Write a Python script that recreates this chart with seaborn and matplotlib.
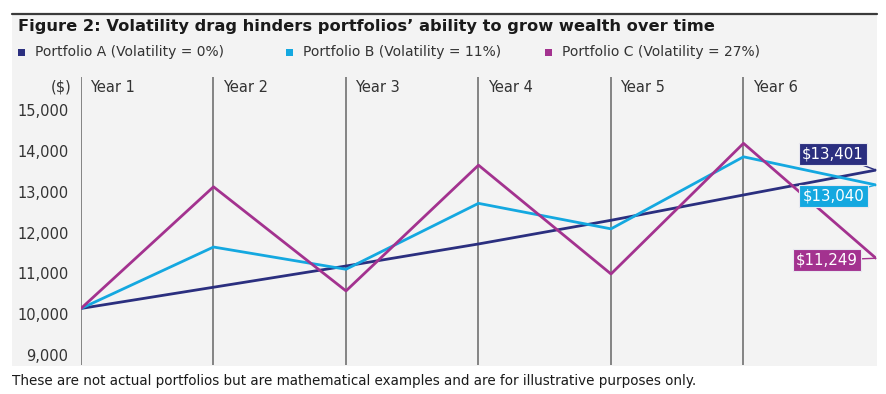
import numpy as np
import pandas as pd
import matplotlib
matplotlib.use('Agg')
import matplotlib.pyplot as plt
import matplotlib.transforms as mtransforms
from matplotlib.patches import Rectangle
import seaborn as sns

# ── Data ──────────────────────────────────────────────────────────────────────
years = [0, 1, 2, 3, 4, 5, 6]
year_labels = ['Year 1', 'Year 2', 'Year 3', 'Year 4', 'Year 5', 'Year 6']
portfolio_a = [10140, 10660, 11180, 11720, 12300, 12920, 13530]
portfolio_b = [10140, 11645, 11100, 12715, 12090, 13855, 13165]
portfolio_c = [10140, 13120, 10570, 13650, 10985, 14185, 11370]
series_names = ['Portfolio A (Volatility = 0%)',
                'Portfolio B (Volatility = 11%)',
                'Portfolio C (Volatility = 27%)']
end_labels = ['$13,401', '$13,040', '$11,249']
y_ticks = [9000, 10000, 11000, 12000, 13000, 14000, 15000]

# ── Style ─────────────────────────────────────────────────────────────────────
NAVY = '#2b2f7f'
CYAN = '#14a8e0'
MAGENTA = '#a3328f'
PANEL = '#f3f3f3'
colors = [NAVY, CYAN, MAGENTA]

sns.set_style('white')
plt.rcParams['font.family'] = ['DejaVu Sans']

df = pd.DataFrame({
    'year': years * 3,
    'value': portfolio_a + portfolio_b + portfolio_c,
    'portfolio': [n for n in series_names for _ in years],
})

fig = plt.figure(figsize=(8.87, 3.94), dpi=100)
W, H = 887, 394

def fx(px):
    return px / W

def fy(py):
    return 1 - py / H

# grey panel + top rule
fig.patches.append(Rectangle((fx(12), fy(366)), fx(877) - fx(12), fy(14) - fy(366),
                             transform=fig.transFigure, facecolor=PANEL,
                             edgecolor='none', zorder=-5))
fig.lines.append(plt.Line2D([fx(12), fx(877)], [fy(14), fy(14)],
                            transform=fig.transFigure, color='#3a3a3a', lw=1.6))

ax = fig.add_axes([fx(81), fy(365), fx(876) - fx(81), fy(77) - fy(365)])
ax.patch.set_alpha(0)
ax.set_zorder(2)

sns.lineplot(data=df, x='year', y='value', hue='portfolio', palette=colors,
             linewidth=2.0, legend=False, ax=ax, zorder=3)

ax.set_xlim(0, 6)
ax.set_ylim(8755, 15810)
for x in range(6):
    ax.axvline(x, color='#666666', lw=1.1, zorder=1)

ax.set_yticks(y_ticks)
ax.set_yticklabels([f'{v:,}' for v in y_ticks], fontsize=10.5, color='#333333')
ax.tick_params(axis='y', length=0, pad=9)
ax.set_xticks([])
ax.set_xlabel('')
ax.set_ylabel('')
for s in ax.spines.values():
    s.set_visible(False)

trans = mtransforms.blended_transform_factory(ax.transData, ax.transAxes)
for i, lab in enumerate(year_labels):
    ax.text(i + 0.07, 0.965, lab, transform=trans, fontsize=10.5,
            color='#333333', va='center', ha='left')
fig.text(fx(72), fy(87), '($)', fontsize=10.5, color='#333333',
         ha='right', va='center')

# end-of-line value tags
ends = [portfolio_a[-1], portfolio_b[-1], portfolio_c[-1]]
tag_xy = [(5.675, 13920), (5.68, 12895), (5.63, 11325)]
for val, lab, col, (tx, ty) in zip(ends, end_labels, colors, tag_xy):
    ax.annotate(lab, xy=(6, val), xytext=(tx, ty), textcoords='data',
                fontsize=10.8, color='white', ha='center', va='center',
                bbox=dict(boxstyle='square,pad=0.22', fc=col, ec='#e8e8f0', lw=0.8),
                arrowprops=dict(arrowstyle='-', color=col, lw=1.0,
                                shrinkA=0, shrinkB=0),
                zorder=5, annotation_clip=False)

# title + legend row
fig.text(fx(18), fy(27), "Figure 2: Volatility drag hinders portfolios\u2019 ability to grow wealth over time",
         fontsize=11.7, fontweight='bold', color='#1a1a1a', ha='left', va='center')
leg_x = [18, 286, 545]
for x0, name, col in zip(leg_x, series_names, colors):
    fig.patches.append(Rectangle((fx(x0), fy(56)), fx(7), 7 / H,
                                 transform=fig.transFigure, facecolor=col,
                                 edgecolor='none'))
    fig.text(fx(x0 + 17), fy(52), name, fontsize=10, color='#333333',
             ha='left', va='center')

fig.text(fx(12), fy(381),
         'These are not actual portfolios but are mathematical examples and are for illustrative purposes only.',
         fontsize=9.75, color='#1a1a1a', ha='left', va='center')

fig.savefig('out.png', dpi=100, facecolor='white')
